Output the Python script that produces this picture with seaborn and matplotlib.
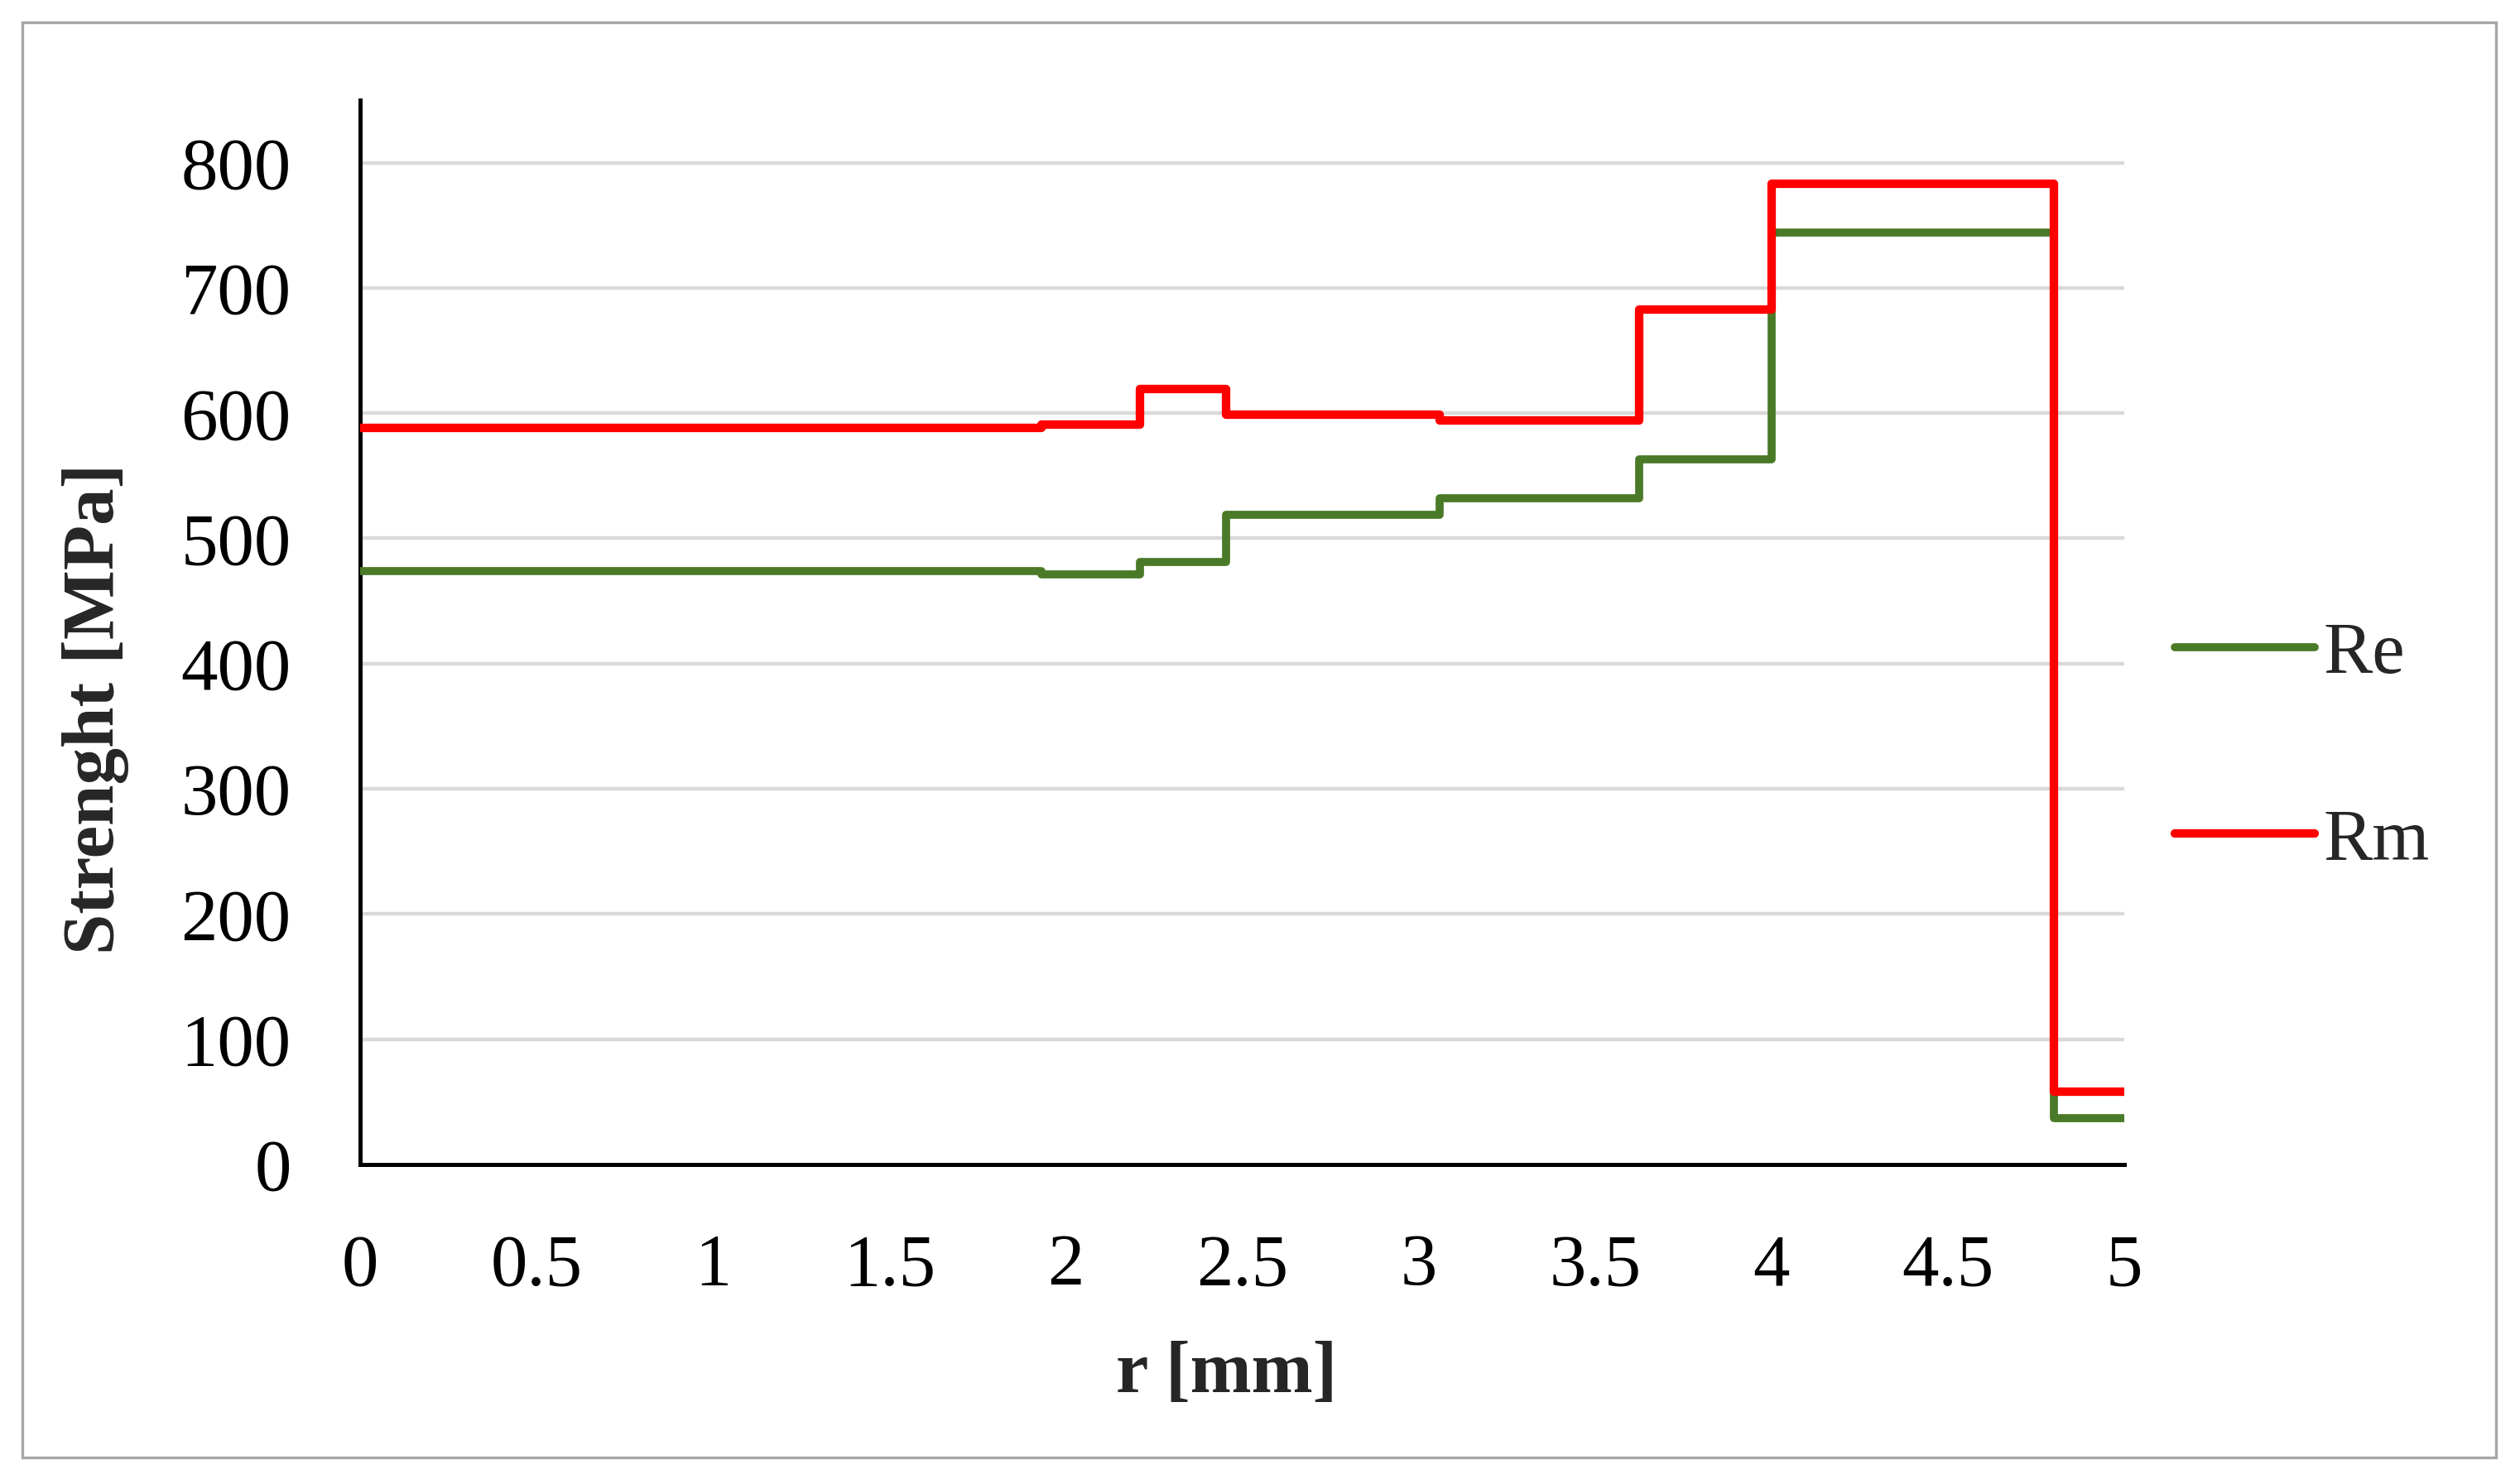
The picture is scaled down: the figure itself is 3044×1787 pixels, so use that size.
import matplotlib
matplotlib.use("Agg")
import matplotlib.pyplot as plt
import numpy as np
import pandas as pd
import seaborn as sns
from matplotlib.patches import Rectangle

# step edges along the radius [mm] and value of each step (held until next edge)
r_edges = [0, 1.93, 2.21, 2.455, 3.06, 3.625, 4.0, 4.8, 5.0]
re_vals = [474, 471, 481, 519, 532, 563, 744, 37]
rm_vals = [588, 591, 619, 599, 594, 683, 783, 58]

x_ticks = [0, 0.5, 1, 1.5, 2, 2.5, 3, 3.5, 4, 4.5, 5]
x_labels = ["0", "0.5", "1", "1.5", "2", "2.5", "3", "3.5", "4", "4.5", "5"]
y_ticks = [0, 100, 200, 300, 400, 500, 600, 700, 800]


def build_frame():
    # last value repeated so the final step reaches r = 5
    df = pd.DataFrame({
        "r": r_edges,
        "Re": re_vals + [re_vals[-1]],
        "Rm": rm_vals + [rm_vals[-1]],
    })
    return df


def main():
    sns.set_theme(style="white")
    plt.rcParams["font.family"] = ["Liberation Serif", "DejaVu Serif"]

    df = build_frame()

    fig = plt.figure(figsize=(15.22, 8.935), dpi=200)
    ax = fig.add_axes([0.1429, 0.2127, 0.7001, 0.7196])

    sns.lineplot(data=df, x="r", y="Re", ax=ax, color="#4a7a28", lw=3.5,
                 drawstyle="steps-post", estimator=None, sort=False, label="Re",
                 solid_joinstyle="round", solid_capstyle="butt", zorder=3)
    sns.lineplot(data=df, x="r", y="Rm", ax=ax, color="#ff0000", lw=3.7,
                 drawstyle="steps-post", estimator=None, sort=False, label="Rm",
                 solid_joinstyle="round", solid_capstyle="butt", zorder=4)

    ax.set_xlim(0, 5)
    ax.set_ylim(0, 850)
    ax.set_xticks(x_ticks)
    ax.set_xticklabels(x_labels)
    ax.set_yticks(y_ticks)
    ax.tick_params(axis="both", length=0, labelsize=32, colors="black")
    ax.tick_params(axis="x", pad=30)
    ax.tick_params(axis="y", pad=30)

    for gy in y_ticks[1:]:
        ax.axhline(gy, color="#d9d9d9", lw=1.6, zorder=1)

    for side in ["top", "right"]:
        ax.spines[side].set_visible(False)
    for side in ["left", "bottom"]:
        ax.spines[side].set_color("black")
        ax.spines[side].set_linewidth(1.8)

    ax.set_xlabel("r [mm]", fontsize=32, fontweight="bold")
    ax.set_ylabel("Strenght [MPa]", fontsize=32, fontweight="bold")
    ax.xaxis.set_label_coords(0.491, -0.197)
    ax.xaxis.label.set_verticalalignment("center")
    ax.yaxis.set_label_coords(-0.1497, 0.4285)
    ax.yaxis.label.set_verticalalignment("center")

    handles, labels = ax.get_legend_handles_labels()
    ax.get_legend().remove()
    leg = fig.legend(handles, labels, loc="center left", bbox_to_anchor=(0.863, 0.494),
                     frameon=False, fontsize=32, handlelength=1.9, handletextpad=0.12,
                     labelspacing=1.62, borderpad=0, borderaxespad=0)
    for h in leg.legend_handles:
        h.set_solid_capstyle("round")

    fig.patches.append(Rectangle((27 / 3044, 1 - 1761 / 1787), (3015 - 27) / 3044,
                                 (1761 - 27) / 1787, transform=fig.transFigure,
                                 fill=False, edgecolor="#a6a6a6", lw=1.2))

    fig.savefig("out.png", dpi=200, facecolor="white")


if __name__ == "__main__":
    main()
